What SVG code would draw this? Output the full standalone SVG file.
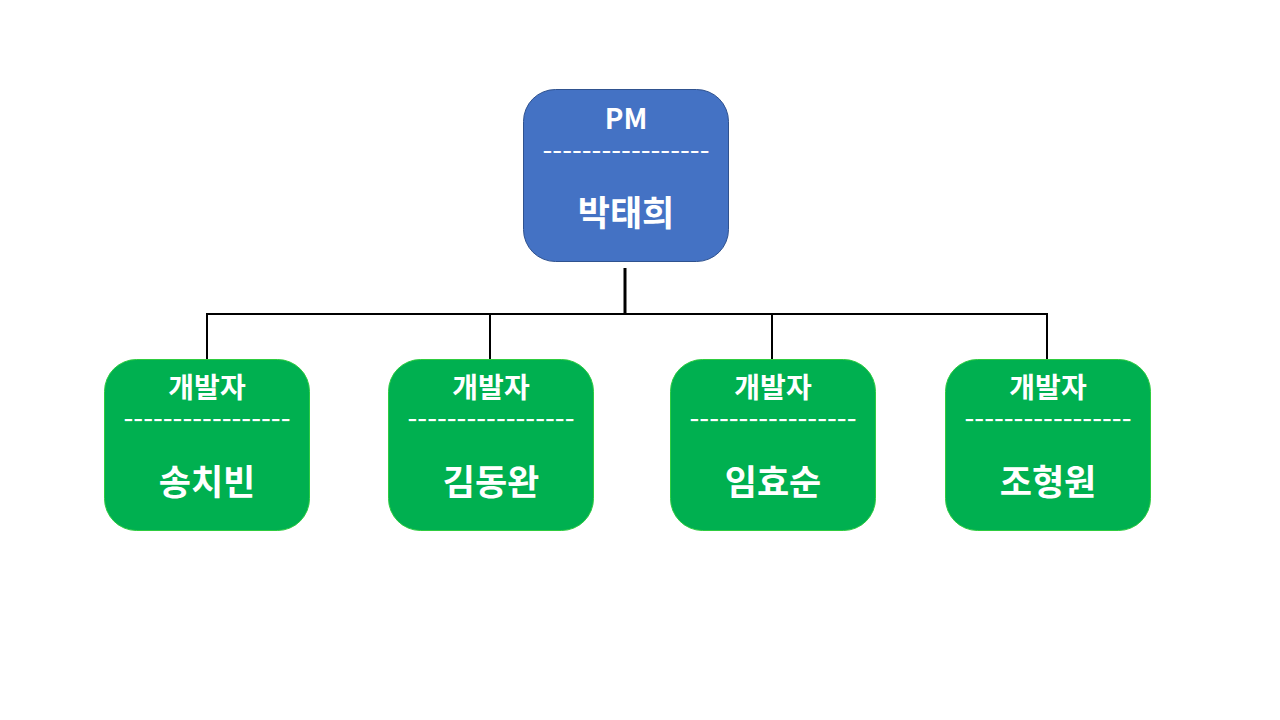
<svg xmlns="http://www.w3.org/2000/svg" width="1280" height="720" viewBox="0 0 1280 720">
<style>
.pm{fill:#4472C4;stroke:#2F528F;stroke-width:1}
.dev{fill:#00B050;stroke:#2ECC40;stroke-width:1}
text{font-family:"Noto Sans CJK KR","Noto Sans",sans-serif;fill:#fff;font-weight:bold;text-anchor:middle}
.role{font-size:28px}
.dash{font-size:20px}
.dash.small{font-size:18px}
.name{font-size:35px}
.conn{stroke:#000;fill:none}
</style>
<rect width="1280" height="720" fill="#fff"/>
<g id="connectors">
<line class="conn" x1="625" y1="268" x2="625" y2="314" stroke-width="3"/>
<polyline class="conn" points="207,359 207,314 1047,314 1047,359" stroke-width="2"/>
<line class="conn" x1="490" y1="314" x2="490" y2="359" stroke-width="2"/>
<line class="conn" x1="772" y1="314" x2="772" y2="359" stroke-width="2"/>
</g>
<g id="pm">
<rect class="pm" x="523.5" y="89.5" width="205" height="172" rx="32"/>
<text class="role" x="626" y="129">PM</text>
<text class="dash small" x="626" y="157" textLength="167" lengthAdjust="spacingAndGlyphs">-----------------</text>
<text class="name" x="626" y="226">박태희</text>
</g>
<g id="dev1">
<rect class="dev" x="104.5" y="359.5" width="205" height="171" rx="32"/>
<text class="role" x="207" y="398">개발자</text>
<text class="dash" x="207" y="426" textLength="167" lengthAdjust="spacingAndGlyphs">-----------------</text>
<text class="name" x="207" y="495">송치빈</text>
</g>
<g id="dev2">
<rect class="dev" x="388.5" y="359.5" width="205" height="171" rx="32"/>
<text class="role" x="491" y="398">개발자</text>
<text class="dash" x="491" y="426" textLength="167" lengthAdjust="spacingAndGlyphs">-----------------</text>
<text class="name" x="491" y="495">김동완</text>
</g>
<g id="dev3">
<rect class="dev" x="670.5" y="359.5" width="205" height="171" rx="32"/>
<text class="role" x="773" y="398">개발자</text>
<text class="dash" x="773" y="426" textLength="167" lengthAdjust="spacingAndGlyphs">-----------------</text>
<text class="name" x="773" y="495">임효순</text>
</g>
<g id="dev4">
<rect class="dev" x="945.5" y="359.5" width="205" height="171" rx="32"/>
<text class="role" x="1048" y="398">개발자</text>
<text class="dash" x="1048" y="426" textLength="167" lengthAdjust="spacingAndGlyphs">-----------------</text>
<text class="name" x="1048" y="495">조형원</text>
</g>
</svg>
